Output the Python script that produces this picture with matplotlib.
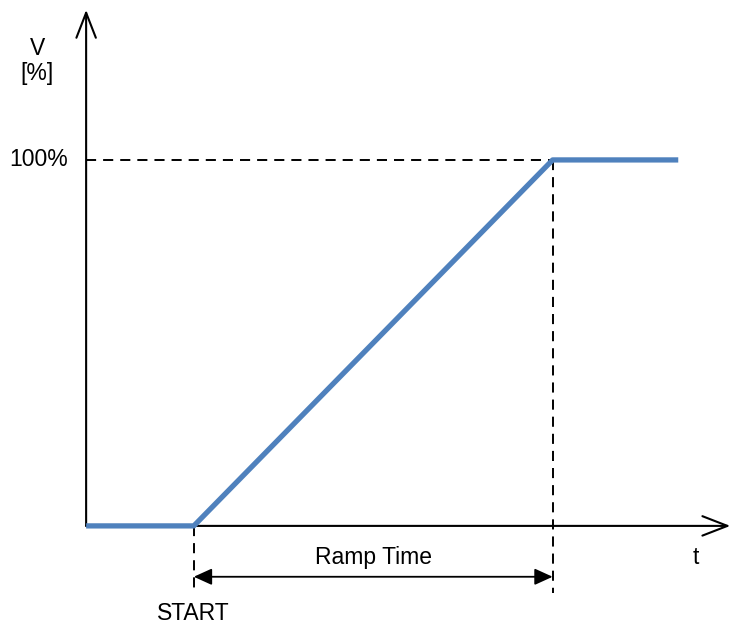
import matplotlib
matplotlib.use("Agg")
import matplotlib.pyplot as plt

plt.rcParams['font.family'] = ['Liberation Sans', 'DejaVu Sans']

# ramp profile: time (arbitrary units) and output voltage in percent
t = [0, 3, 13, 16.5]
v = [0, 0, 100, 100]
t_start = 3
t_end = 13
v_full = 100

blue = "#4f81bd"

fig = plt.figure(figsize=(7.31, 6.28), dpi=100)
ax = fig.add_axes([0, 0, 1, 1])
ax.set_xlim(-2.4, 17.97)
ax.set_ylim(-27.9, 143.7)
ax.axis("off")

# axes with open arrow heads
head = "->,head_length=0.9,head_width=0.35"
ax.annotate("", xy=(0, 141), xytext=(0, 0),
            arrowprops=dict(arrowstyle=head, lw=1.5, color="black",
                            shrinkA=0, shrinkB=0, mutation_scale=20))
ax.annotate("", xy=(17.95, 0), xytext=(0, 0),
            arrowprops=dict(arrowstyle=head, lw=1.5, color="black",
                            shrinkA=0, shrinkB=0, mutation_scale=20))

# dashed guide lines
dash = dict(color="black", lw=1.4, dashes=(5.2, 3.6))
ax.plot([0, t_end], [v_full, v_full], **dash)
ax.plot([t_end, t_end], [v_full, -18.3], **dash)
ax.plot([t_start, t_start], [0, -18.3], **dash)

# ramp curve
ax.plot(t, v, color=blue, lw=3.8, solid_capstyle="butt", zorder=5)

# ramp time double arrow
ax.annotate("", xy=(t_end, -13.9), xytext=(t_start, -13.9),
            arrowprops=dict(arrowstyle="<|-|>,head_length=0.55,head_width=0.25",
                            lw=1.3, color="black", shrinkA=0, shrinkB=0,
                            mutation_scale=20))

fs = 16.5
ax.text(-0.5, v_full, "100%", ha="right", va="center", fontsize=fs)
ax.text(-1.36, 127, "V\n[%]", ha="center", va="center", fontsize=fs,
        multialignment="center", linespacing=1.15)
ax.text(17.0, -8.7, "t", ha="center", va="center", fontsize=fs)
ax.text((t_start + t_end) / 2, -8.5, "Ramp Time", ha="center", va="center", fontsize=fs)
ax.text(t_start, -24, "START", ha="center", va="center", fontsize=fs)

fig.savefig("out.png", dpi=100)
